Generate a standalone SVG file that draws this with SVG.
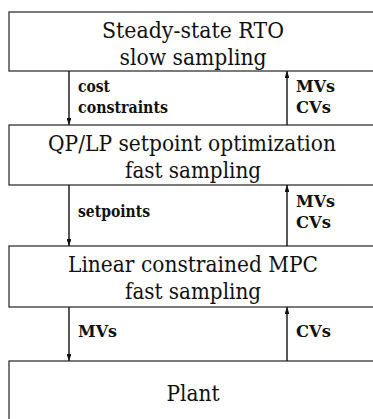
<svg xmlns="http://www.w3.org/2000/svg" width="373" height="419" viewBox="0 0 373 419">
  <defs>
    <style>
      .box { fill: #ffffff; stroke: #222222; stroke-width: 1.2; }
      .title { font-family: "DejaVu Serif", "Liberation Serif", serif; font-size: 23px; fill: #111111; text-anchor: middle; }
      .long { font-size: 22.5px; }
      .label { font-family: "DejaVu Serif", "Liberation Serif", serif; font-size: 17.5px; font-weight: bold; fill: #111111; }
      .link { stroke: #111111; stroke-width: 1.4; fill: none; }
    </style>
    <marker id="head" viewBox="0 0 10 7" refX="10" refY="3.5" markerWidth="5" markerHeight="3.5" orient="auto" markerUnits="strokeWidth">
      <path d="M0,0 L10,3.5 L0,7 Z" fill="#111111"/>
    </marker>
  </defs>

  <rect width="373" height="419" fill="#ffffff"/>

  <!-- text widths are fixed with textLength so the lines keep a compact, Times-like measure -->
  <g id="rto">
    <rect class="box" x="9" y="12" width="400" height="59"/>
    <text class="title" x="193" y="38" textLength="182" lengthAdjust="spacingAndGlyphs">Steady-state RTO</text>
    <text class="title" x="193" y="65" textLength="147" lengthAdjust="spacingAndGlyphs">slow sampling</text>
  </g>

  <g id="setpoint-opt">
    <rect class="box" x="9" y="125" width="400" height="60"/>
    <text class="title long" x="192" y="151" textLength="288" lengthAdjust="spacingAndGlyphs">QP/LP setpoint optimization</text>
    <text class="title" x="193" y="178" textLength="136" lengthAdjust="spacingAndGlyphs">fast sampling</text>
  </g>

  <g id="mpc">
    <rect class="box" x="9" y="246" width="400" height="61"/>
    <text class="title" x="193" y="272" textLength="250" lengthAdjust="spacingAndGlyphs">Linear constrained MPC</text>
    <text class="title" x="193" y="299" textLength="136" lengthAdjust="spacingAndGlyphs">fast sampling</text>
  </g>

  <g id="plant">
    <rect class="box" x="9" y="361" width="400" height="80"/>
    <text class="title" x="193" y="401" textLength="53" lengthAdjust="spacingAndGlyphs">Plant</text>
  </g>

  <g id="connectors">
    <line class="link" x1="69" y1="71" x2="69" y2="125" marker-end="url(#head)"/>
    <line class="link" x1="287" y1="125" x2="287" y2="71" marker-end="url(#head)"/>
    <line class="link" x1="69" y1="185" x2="69" y2="246" marker-end="url(#head)"/>
    <line class="link" x1="287" y1="246" x2="287" y2="185" marker-end="url(#head)"/>
    <line class="link" x1="69" y1="307" x2="69" y2="361" marker-end="url(#head)"/>
    <line class="link" x1="287" y1="361" x2="287" y2="307" marker-end="url(#head)"/>

    <text class="label" x="78" y="92" textLength="32" lengthAdjust="spacingAndGlyphs">cost</text>
    <text class="label" x="78" y="113" textLength="90" lengthAdjust="spacingAndGlyphs">constraints</text>
    <text class="label" x="296" y="92" textLength="39" lengthAdjust="spacingAndGlyphs">MVs</text>
    <text class="label" x="296" y="113" textLength="35" lengthAdjust="spacingAndGlyphs">CVs</text>

    <text class="label" x="78" y="217" textLength="72" lengthAdjust="spacingAndGlyphs">setpoints</text>
    <text class="label" x="296" y="207" textLength="39" lengthAdjust="spacingAndGlyphs">MVs</text>
    <text class="label" x="296" y="228" textLength="35" lengthAdjust="spacingAndGlyphs">CVs</text>

    <text class="label" x="78" y="337" textLength="39" lengthAdjust="spacingAndGlyphs">MVs</text>
    <text class="label" x="296" y="337" textLength="35" lengthAdjust="spacingAndGlyphs">CVs</text>
  </g>
</svg>
